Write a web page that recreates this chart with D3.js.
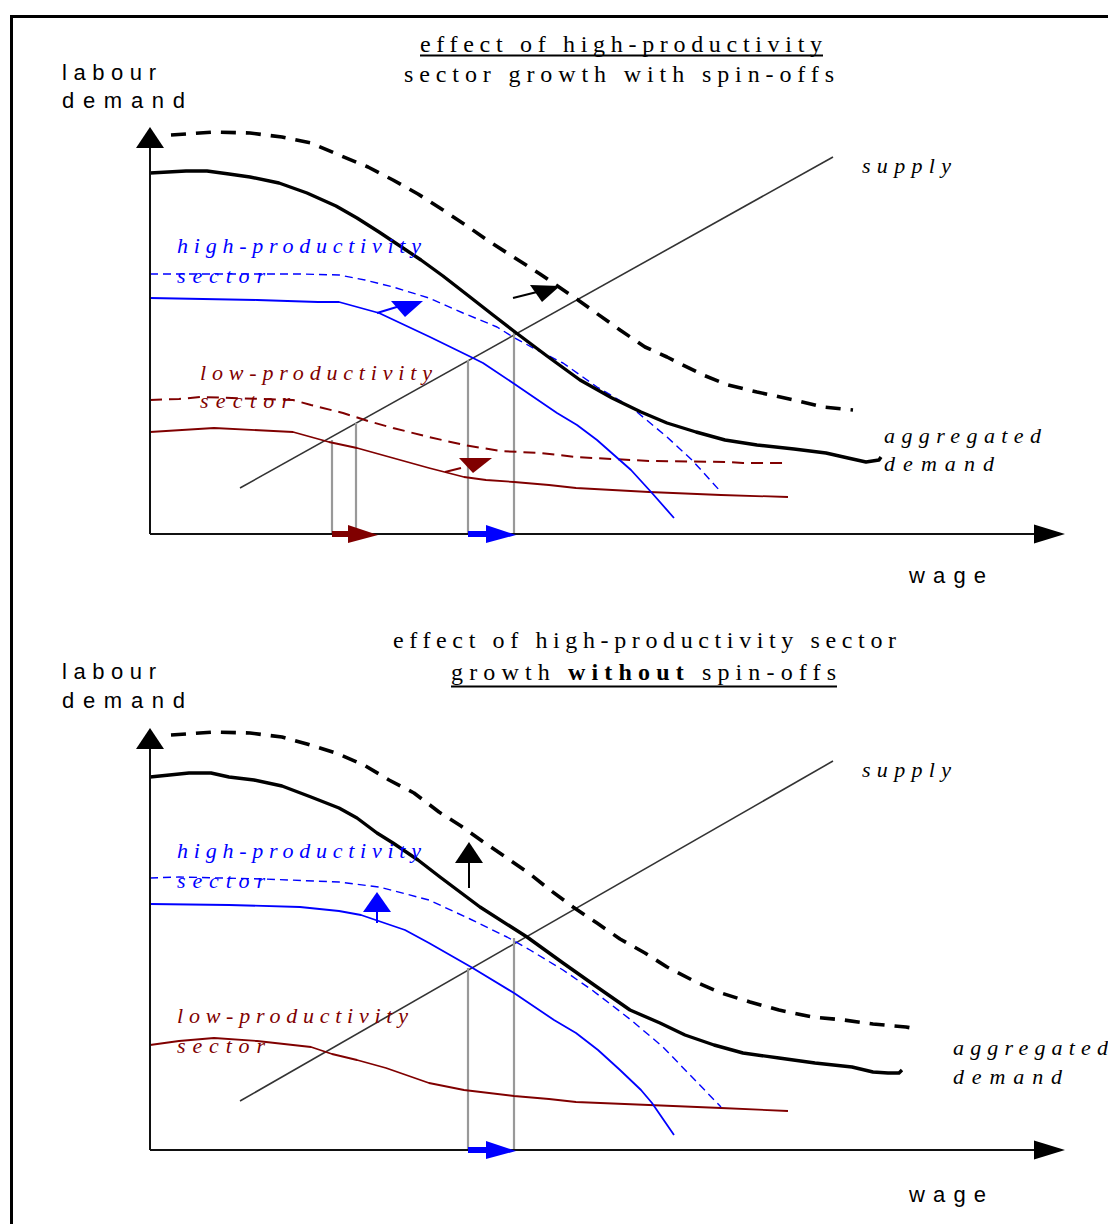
<!DOCTYPE html>
<html><head><meta charset="utf-8">
<script src="https://cdn.jsdelivr.net/npm/d3@7"></script>
<style>body{margin:0;background:#fff}svg{display:block}</style>
</head><body>
<svg id="c" width="1108" height="1224"></svg>
<script>
// ---------- DATA (wage, labour demand) ----------
// Panel 1: with spin-offs
const aggDemand1 = [[0,361],[36,363],[57,363],[79,360],[100,357],[129,351],[157,341],[186,328],[207,316],[229,302],[250,288],[271,274],[293,258],[320,237],[343,219],[365,202],[397,178],[430,154],[462,136],[491,122],[517,111],[546,102],[575,94],[607,89],[644,85],[676,81],[698,76],[716,72],[729,74],[731,77]];
const aggDemandNew1 = [[21,399],[64,402],[100,401],[132,397],[161,391],[189,379],[218,367],[243,354],[268,340],[293,324],[317,308],[340,292],[365,276],[390,260],[428,234],[470,204],[495,187],[517,177],[553,159],[578,149],[607,142],[644,134],[673,127],[703,124]];
const highProd1 = [[0,236],[107,234],[168,232],[189,232],[229,221],[280,197],[323,176],[333,171],[363,151],[407,121],[427,109],[447,94],[481,64],[502,41],[524,16]];
const highProdNew1 = [[0,260],[114,260],[150,260],[189,259],[215,254],[243,247],[279,236],[313,221],[347,207],[363,197],[387,184],[413,171],[447,147],[481,127],[517,97],[542,74],[571,42]];
const lowProd1 = [[0,102],[64,106],[143,102],[161,97],[179,92],[207,86],[243,76],[279,66],[314,57],[336,54],[364,52],[399,49],[426,46],[499,42],[571,39],[638,37]];
const lowProdNew1 = [[0,134],[29,135],[50,137],[143,134],[161,129],[193,121],[218,113],[243,106],[279,97],[314,89],[350,83],[390,81],[426,77],[462,75],[499,73],[578,72],[593,71],[636,71]];
const supply1 = [[90,46],[683,377]];
const dropLines1 = [[182,94,"#999"],[206,111,"#999"],[318,174,"#999"],[364,204,"#999"]];
const wageShifts1 = [{from:182, to:228, color:"#800000"},{from:318, to:366, color:"#0000ff"}];
const shiftArrows1 = [
  {color:"#000", line:[[363,236],[387,242]], head:[[380,249],[410,248],[392,232]]},
  {color:"#0000ff", line:[[227,221],[250,228]], head:[[241,233],[273,233],[255,217]]},
  {color:"#800000", line:[[295,62],[311,66]], head:[[309,76],[342,76],[323,61]]}
];
// Panel 2: without spin-offs
const aggDemand2 = [[0,373],[39,377],[61,377],[79,373],[104,370],[132,364],[161,353],[189,342],[207,332],[227,317],[243,307],[268,290],[290,273],[330,243],[377,213],[413,187],[447,163],[480,140],[510,127],[535,115],[564,105],[593,97],[629,92],[665,87],[702,83],[723,78],[738,77],[749,77],[752,80]];
const aggDemandNew2 = [[21,415],[64,418],[100,417],[132,413],[157,406],[186,397],[214,385],[239,370],[264,357],[289,338],[311,324],[332,309],[357,292],[380,276],[400,260],[423,243],[447,227],[470,211],[495,197],[517,183],[546,168],[571,157],[600,148],[629,140],[662,133],[694,130],[723,126],[756,123],[767,121]];
const highProd2 = [[0,246],[79,245],[150,243],[189,239],[211,235],[255,220],[279,207],[321,183],[364,157],[404,130],[426,117],[448,100],[470,80],[491,60],[502,47],[524,15]];
const highProdNew2 = [[0,272],[29,273],[114,271],[189,268],[229,263],[279,250],[320,231],[357,213],[380,200],[413,180],[442,160],[459,147],[481,130],[513,103],[542,73],[571,43]];
const lowProd2 = [[0,105],[29,109],[64,112],[107,109],[161,103],[182,96],[207,90],[236,82],[279,67],[314,60],[364,54],[399,51],[426,48],[499,45],[571,42],[638,39]];
const supply2 = [[90,49],[683,389]];
const dropLines2 = [[318,182,"#999"],[364,212,"#999"]];
const wageShifts2 = [{from:318, to:366, color:"#0000ff"}];
const shiftArrows2 = [
  {color:"#000", line:[[319,262],[319,287]], head:[[305,287],[333,287],[319,308]]},
  {color:"#0000ff", line:[[227,227],[227,238]], head:[[213,238],[241,238],[227,258]]}
];

// ---------- DRAWING ----------
const svg = d3.select("#c");
svg.append("rect").attr("x",11.5).attr("y",16.5).attr("width",1300).attr("height",1400)
  .attr("fill","none").attr("stroke","#000").attr("stroke-width",3);

const SERIF = "'Liberation Serif','Times New Roman',serif";
const SANS = "'Liberation Sans',Arial,sans-serif";

function txt(g, s, x, y, len, opt={}) {
  const t = g.append("text").attr("x",x).attr("y",y)
    .attr("font-family", opt.family||SERIF).attr("font-size", opt.size||24)
    .attr("font-style", opt.italic?"italic":"normal")
    .attr("fill", opt.color||"#000")
    .attr("textLength", len).attr("lengthAdjust","spacing");
  if (Array.isArray(s)) {
    s.forEach(p => t.append("tspan").text(p.t).attr("font-weight", p.b?"bold":"normal"));
  } else t.text(s);
  return t;
}

function panel(cfg) {
  const g = svg.append("g");
  const x = d3.scaleLinear().domain([0,915]).range([150,1065]);
  const y = d3.scaleLinear().domain([0,cfg.yMax]).range([cfg.axisY, cfg.axisY - cfg.yMax]);
  const line = d3.line().x(d=>x(d[0])).y(d=>y(d[1]));

  // supply
  g.append("path").attr("d", line(cfg.supply)).attr("fill","none").attr("stroke","#333").attr("stroke-width",1.6);
  // drop lines
  g.selectAll(".drop").data(cfg.drops).join("line")
    .attr("x1", d=>x(d[0])).attr("x2", d=>x(d[0])).attr("y1", d=>y(d[1])).attr("y2", y(0))
    .attr("stroke", d=>d[2]).attr("stroke-width",2.2);

  const curve = (data, color, w, dash) => g.append("path").attr("d", line(data))
    .attr("fill","none").attr("stroke",color).attr("stroke-width",w)
    .attr("stroke-dasharray", dash||null).attr("stroke-linejoin","round");

  if (cfg.lowNew) curve(cfg.lowNew, "#800000", 2, "12,7");
  curve(cfg.low, "#800000", 1.8);
  curve(cfg.highNew, "#0000ff", 1.4, "8,5");
  curve(cfg.high, "#0000ff", 1.8);
  curve(cfg.agg, "#000", 3.4);
  curve(cfg.aggNew, "#000", 3.6, "15,10");

  // shift arrows
  cfg.arrows.forEach(a => {
    g.append("path").attr("d", line(a.line)).attr("stroke", a.color).attr("stroke-width",2).attr("fill","none");
    g.append("path").attr("d", line(a.head)+"Z").attr("fill", a.color);
  });

  // axes
  g.append("line").attr("x1",x(0)).attr("x2",x(0)).attr("y1",y(0)).attr("y2",y(cfg.yMax-21))
    .attr("stroke","#111").attr("stroke-width",2);
  g.append("path").attr("d", line([[-14,cfg.yMax-21],[14,cfg.yMax-21],[0,cfg.yMax]])+"Z").attr("fill","#000");
  g.append("line").attr("x1",x(0)).attr("x2",x(884)).attr("y1",y(0)).attr("y2",y(0))
    .attr("stroke","#111").attr("stroke-width",2);
  g.append("path").attr("d", line([[884,-9.5],[884,9.5],[915,0]])+"Z").attr("fill","#000");

  // wage shift arrows on the axis
  cfg.shifts.forEach(s => {
    g.append("rect").attr("x", x(s.from)).attr("y", y(0)-3).attr("width", x(s.to-30)-x(s.from)).attr("height",6).attr("fill", s.color);
    g.append("path").attr("d", line([[s.to-30,-9],[s.to-30,9],[s.to,-1]])+"Z").attr("fill", s.color);
  });

  // labels
  cfg.texts.forEach(t => txt(g, t.s, t.x, t.y, t.len, t.o));
  cfg.underlines.forEach(u => g.append("line").attr("x1",u[0]).attr("x2",u[1]).attr("y1",u[2]).attr("y2",u[2]).attr("stroke","#000").attr("stroke-width",2.2));
}

const ital = c => ({italic:true, size:22, color:c});
const sans = {family:SANS, size:22};

panel({
  axisY:534, yMax:407, supply:supply1, drops:dropLines1,
  agg:aggDemand1, aggNew:aggDemandNew1, high:highProd1, highNew:highProdNew1, low:lowProd1, lowNew:lowProdNew1,
  arrows:shiftArrows1, shifts:wageShifts1,
  texts:[
    {s:"effect of high-productivity", x:420, y:52, len:402},
    {s:"sector growth with spin-offs", x:404, y:82, len:430},
    {s:"labour", x:62, y:80, len:94, o:sans},
    {s:"demand", x:62, y:108, len:123, o:sans},
    {s:"supply", x:862, y:173, len:89, o:ital("#000")},
    {s:"high-productivity", x:177, y:253, len:244, o:ital("#0000ff")},
    {s:"sector", x:177, y:283, len:88, o:ital("#0000ff")},
    {s:"low-productivity", x:200, y:380, len:232, o:ital("#800000")},
    {s:"sector", x:200, y:408, len:90, o:ital("#800000")},
    {s:"aggregated", x:884, y:443, len:157, o:ital("#000")},
    {s:"demand", x:884, y:471, len:110, o:ital("#000")},
    {s:"wage", x:909, y:583, len:77, o:sans}
  ],
  underlines:[[420,823,55.5]]
});

panel({
  axisY:1150, yMax:422, supply:supply2, drops:dropLines2,
  agg:aggDemand2, aggNew:aggDemandNew2, high:highProd2, highNew:highProdNew2, low:lowProd2, lowNew:null,
  arrows:shiftArrows2, shifts:wageShifts2,
  texts:[
    {s:"effect of high-productivity sector", x:393, y:648, len:503},
    {s:[{t:"growth "},{t:"without",b:true},{t:" spin-offs"}], x:451, y:680, len:385},
    {s:"labour", x:62, y:679, len:94, o:sans},
    {s:"demand", x:62, y:708, len:123, o:sans},
    {s:"supply", x:862, y:777, len:89, o:ital("#000")},
    {s:"high-productivity", x:177, y:858, len:244, o:ital("#0000ff")},
    {s:"sector", x:177, y:888, len:88, o:ital("#0000ff")},
    {s:"low-productivity", x:177, y:1023, len:231, o:ital("#800000")},
    {s:"sector", x:177, y:1053, len:88, o:ital("#800000")},
    {s:"aggregated", x:953, y:1055, len:155, o:ital("#000")},
    {s:"demand", x:953, y:1084, len:109, o:ital("#000")},
    {s:"wage", x:909, y:1202, len:77, o:sans}
  ],
  underlines:[[451,837,686.5]]
});
</script>
</body></html>
